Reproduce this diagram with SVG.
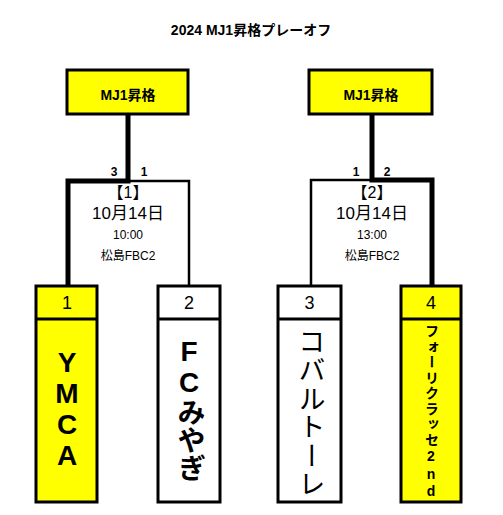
<svg xmlns="http://www.w3.org/2000/svg" width="503" height="515" viewBox="0 0 503 515">
<style>
text{font-family:"Liberation Sans","Noto Sans CJK JP",sans-serif;fill:#000}
.b{font-weight:bold}
.box{stroke:#000;stroke-width:3;fill:#fff}
.y{fill:#ff0}
.thick{stroke:#000;stroke-width:5;fill:none;stroke-linejoin:miter}
.thin{stroke:#000;stroke-width:2.5;fill:none;stroke-linejoin:miter}
.v{writing-mode:vertical-rl;text-orientation:upright}
</style>
<rect width="503" height="515" fill="#fff"/>
<text x="251" y="35" class="b" font-size="14" text-anchor="middle">2024 MJ1昇格プレーオフ</text>
<g id="win1"><rect x="67" y="70" width="121" height="44" class="box y"/><text x="128" y="100" class="b" font-size="14" text-anchor="middle">MJ1昇格</text></g>
<g id="win2"><rect x="309" y="70" width="123" height="44" class="box y"/><text x="371" y="100" class="b" font-size="14" text-anchor="middle">MJ1昇格</text></g>
<g id="connectors">
<path class="thin" d="M128,181 H189 V287"/>
<path class="thick" d="M128,114 V181 H68 V287"/>
<path class="thin" d="M372,180 H311 V287"/>
<path class="thick" d="M372,114 V180 H432 V287"/>
</g>
<g id="match1">
<text x="114" y="176" class="b" font-size="12" text-anchor="middle">3</text>
<text x="144" y="176" class="b" font-size="12" text-anchor="middle">1</text>
<text x="128" y="198" font-size="16" text-anchor="middle">【1】</text>
<text x="128" y="219" font-size="17" text-anchor="middle">10月14日</text>
<text x="128" y="239" font-size="12" text-anchor="middle">10:00</text>
<text x="128" y="260" font-size="12" text-anchor="middle">松島FBC2</text>
</g>
<g id="match2">
<text x="356" y="176" class="b" font-size="12" text-anchor="middle">1</text>
<text x="387" y="176" class="b" font-size="12" text-anchor="middle">2</text>
<text x="372" y="198" font-size="16" text-anchor="middle">【2】</text>
<text x="372" y="219" font-size="17" text-anchor="middle">10月14日</text>
<text x="372" y="239" font-size="12" text-anchor="middle">13:00</text>
<text x="372" y="260" font-size="12" text-anchor="middle">松島FBC2</text>
</g>
<g id="team1"><rect x="36" y="286" width="61" height="216" class="box y"/><line x1="36" y1="319" x2="97" y2="319" stroke="#000" stroke-width="3"/>
<text x="67" y="309" font-size="18" text-anchor="middle">1</text>
<text x="67" y="347" font-size="28" class="b v">YMCA</text></g>
<g id="team2"><rect x="158" y="286" width="62" height="216" class="box"/><line x1="158" y1="319" x2="220" y2="319" stroke="#000" stroke-width="3"/>
<text x="189" y="309" font-size="18" text-anchor="middle">2</text>
<text x="189" y="336" font-size="28" class="b v">FCみやぎ</text></g>
<g id="team3"><rect x="278" y="286" width="63" height="216" class="box"/><line x1="278" y1="319" x2="341" y2="319" stroke="#000" stroke-width="3"/>
<text x="309.5" y="328" font-size="27" class="v" letter-spacing="1.5">コバルトーレ</text>
<text x="309.5" y="309" font-size="18" text-anchor="middle">3</text></g>
<g id="team4"><rect x="401" y="286" width="60" height="216" class="box y"/><line x1="401" y1="319" x2="461" y2="319" stroke="#000" stroke-width="3"/>
<text x="431" y="309" font-size="18" text-anchor="middle">4</text>
<text x="431" y="324" font-size="14" class="b v" letter-spacing="1.5">フォーリクラッセ2nd</text></g>
</svg>
